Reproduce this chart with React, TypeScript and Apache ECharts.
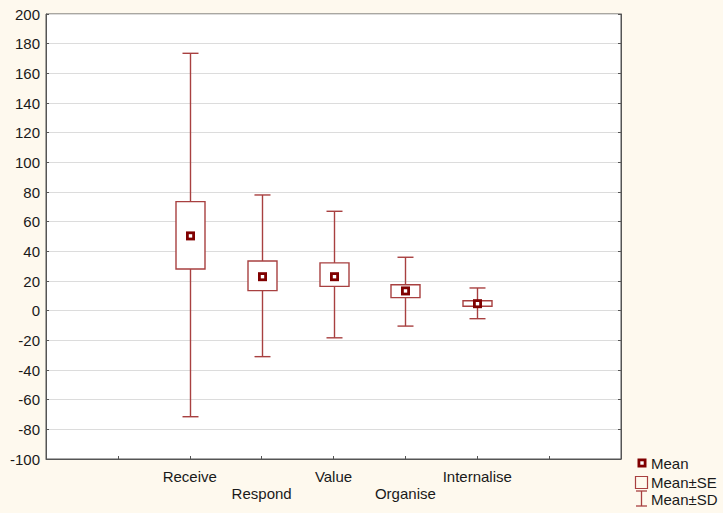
import React, { useEffect, useRef } from "react";
import * as echarts from "echarts";

const categories = ["Receive", "Respond", "Value", "Organise", "Internalise"];
const categoryPositions = [2, 3, 4, 5, 6];
const means = [50.4, 22.9, 22.9, 13.3, 4.7];
const seLow = [28.1, 13.5, 16.4, 8.8, 3.0];
const seHigh = [73.5, 33.5, 32.2, 17.5, 6.7];
const sdLow = [-71.5, -31.0, -18.3, -10.4, -5.4];
const sdHigh = [173.5, 78.0, 67.0, 36.0, 15.3];

const BOX = "#A84040";
const MEAN = "#800000";
const FONT = "'Liberation Sans', Arial, sans-serif";

export default function App() {
  const ref = useRef<HTMLDivElement>(null);
  useEffect(() => {
    document.body.style.margin = "0";
    const chart = echarts.init(ref.current!, null, { renderer: "svg" });
    const data = categories.map((_, i) => [
      categoryPositions[i],
      means[i],
      seLow[i],
      seHigh[i],
      sdLow[i],
      sdHigh[i],
    ]);
    chart.setOption({
      animation: false,
      backgroundColor: "#FEF9EE",
      grid: {
        left: 46,
        top: 14,
        right: 102,
        bottom: 54,
        show: true,
        backgroundColor: "#ffffff",
        borderColor: "#555555",
        borderWidth: 1,
      },
      xAxis: {
        type: "value",
        min: 0,
        max: 8,
        interval: 1,
        splitLine: { show: false },
        axisLine: { show: true, onZero: false, lineStyle: { color: "#555555" } },
        axisTick: { show: true, inside: true, length: 3, lineStyle: { color: "#555555" } },
        axisLabel: {
          margin: 9,
          color: "#1a1a1a",
          fontFamily: FONT,
          fontSize: 15,
          lineHeight: 17,
          showMinLabel: true,
          showMaxLabel: true,
          formatter: (v: number) => {
            const idx = categoryPositions.indexOf(v);
            if (idx < 0) return "";
            return idx % 2 === 1 ? "\n" + categories[idx] : categories[idx];
          },
        },
      },
      yAxis: [
        {
          type: "value",
          min: -100,
          max: 200,
          interval: 20,
          axisLine: { show: true, onZero: false, lineStyle: { color: "#555555" } },
          axisTick: { show: true, inside: true, length: 3, lineStyle: { color: "#555555" } },
          splitLine: { show: true, lineStyle: { color: "#dcdcdc", width: 1 } },
          axisLabel: {
            margin: 6,
            color: "#1a1a1a",
            fontFamily: FONT,
            fontSize: 15,
          },
        },
        {
          type: "value",
          position: "right",
          min: -100,
          max: 200,
          interval: 20,
          axisLine: { show: true, onZero: false, lineStyle: { color: "#555555" } },
          axisTick: { show: true, inside: true, length: 3, lineStyle: { color: "#555555" } },
          splitLine: { show: false },
          axisLabel: { show: false },
        },
      ],
      series: [
        {
          type: "custom",
          data,
          encode: { x: 0, y: [1, 2, 3, 4, 5] },
          renderItem: (params: any, api: any) => {
            const x = api.value(0);
            const pMean = api.coord([x, api.value(1)]);
            const pSeLo = api.coord([x, api.value(2)]);
            const pSeHi = api.coord([x, api.value(3)]);
            const pSdLo = api.coord([x, api.value(4)]);
            const pSdHi = api.coord([x, api.value(5)]);
            const cx = Math.round(pMean[0]) + 0.5;
            const capW = 8;
            const boxW = 14.5;
            const m = 4.5;
            const mi = 1.7;
            const st = { stroke: BOX, lineWidth: 1.4 };
            return {
              type: "group",
              children: [
                { type: "line", shape: { x1: cx, y1: pSdHi[1], x2: cx, y2: pSdLo[1] }, style: st },
                { type: "line", shape: { x1: cx - capW, y1: pSdHi[1], x2: cx + capW, y2: pSdHi[1] }, style: st },
                { type: "line", shape: { x1: cx - capW, y1: pSdLo[1], x2: cx + capW, y2: pSdLo[1] }, style: st },
                {
                  type: "rect",
                  shape: { x: cx - boxW, y: pSeHi[1], width: boxW * 2, height: pSeLo[1] - pSeHi[1] },
                  style: { fill: "#ffffff", stroke: BOX, lineWidth: 1.4 },
                },
                {
                  type: "rect",
                  shape: { x: cx - m, y: pMean[1] - m, width: m * 2, height: m * 2 },
                  style: { fill: MEAN },
                },
                {
                  type: "rect",
                  shape: { x: cx - mi, y: pMean[1] - mi, width: mi * 2, height: mi * 2 },
                  style: { fill: "#ffffff" },
                },
              ],
            };
          },
        },
      ],
      graphic: [
        { type: "rect", shape: { x: 637.5, y: 458.5, width: 9, height: 9 }, style: { fill: MEAN } },
        { type: "rect", shape: { x: 640.3, y: 461.3, width: 3.4, height: 3.4 }, style: { fill: "#ffffff" } },
        {
          type: "text",
          x: 651,
          y: 463,
          style: { text: "Mean", fill: "#1a1a1a", font: `15px ${FONT}`, verticalAlign: "middle" },
        },
        {
          type: "rect",
          shape: { x: 635.5, y: 476.5, width: 12, height: 12 },
          style: { fill: "none", stroke: BOX, lineWidth: 1.2 },
        },
        {
          type: "text",
          x: 651,
          y: 482,
          style: { text: "Mean±SE", fill: "#1a1a1a", font: `15px ${FONT}`, verticalAlign: "middle" },
        },
        { type: "line", shape: { x1: 641.5, y1: 491, x2: 641.5, y2: 506 }, style: { stroke: BOX, lineWidth: 1.3 } },
        { type: "line", shape: { x1: 636, y1: 491, x2: 647, y2: 491 }, style: { stroke: BOX, lineWidth: 1.3 } },
        { type: "line", shape: { x1: 636, y1: 506, x2: 647, y2: 506 }, style: { stroke: BOX, lineWidth: 1.3 } },
        {
          type: "text",
          x: 651,
          y: 499,
          style: { text: "Mean±SD", fill: "#1a1a1a", font: `15px ${FONT}`, verticalAlign: "middle" },
        },
      ],
    });
    return () => chart.dispose();
  }, []);
  return <div ref={ref} style={{ width: 723, height: 513 }} />;
}
